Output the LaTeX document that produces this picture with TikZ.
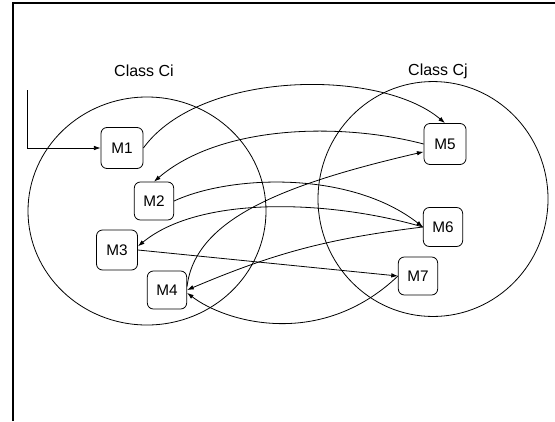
\documentclass[tikz,border=0pt]{standalone}
\usepackage{fontspec}
\setmainfont{Liberation Sans}
\usetikzlibrary{arrows.meta}

\begin{document}
\begin{tikzpicture}[
  x=0.75pt, y=-0.75pt,
  font=\fontsize{11.5}{13}\selectfont,
  meth/.style  = {draw, rounded corners=4.5pt, minimum width=29.5pt, minimum height=28.5pt, inner sep=1pt, line width=0.6pt},
  methL/.style = {meth, minimum width=31.5pt, minimum height=30.75pt},
  cls/.style   = {draw, line width=0.6pt},
  clslbl/.style = {font=\fontsize{12}{14}\selectfont},
  call/.style  = {-{Latex[length=5pt,width=3.4pt]}, line width=0.6pt},
  frame/.style = {line width=1.1pt},
]
\useasboundingbox (0,0) rectangle (555,421);
\draw[frame] (13,421) -- (13,3) -- (555,3);
% the two classes
\draw[cls] (147,211) ellipse [x radius=89.25pt, y radius=85.5pt];
\draw[cls] (433,199) ellipse [x radius=86.25pt, y radius=88.1pt];
\node[clslbl] (lblCi) at (144,71) {Class Ci};
\node[clslbl] (lblCj) at (438,71) {Class Cj};
% methods
\node[methL] (M1) at (122,148) {M1};
\node[meth]  (M2) at (154,201) {M2};
\node[methL, minimum width=30.75pt, minimum height=30pt] (M3) at (117,250) {M3};
\node[meth]  (M4) at (167,290) {M4};
\node[methL] (M5) at (445,144) {M5};
\node[meth, minimum height=29.25pt] (M6) at (443,227) {M6};
\node[meth]  (M7) at (418,276) {M7};
% calls
\coordinate (entry) at (27,90);
\draw[call] (entry) |- (M1.west);
\draw[call] (M1.east) .. controls (200,70) and (380,68) .. (M5.north);
\draw[call] (M5.west) .. controls (340,122) and (220,125) .. (M2.north);
\draw[call] (M2.east) .. controls (230,175) and (350,170) .. (M6.west);
\draw[call] (M6.west) .. controls (330,200) and (200,195) .. (M3.10);
\draw[call] (M3.east) -- (M7.west);
\draw[call] (M6.west) to[bend right=8] (M4.east);
\draw[call] (M4.10) .. controls (195,220) and (280,185) .. (M5.-160);
\draw[call] (M7.west) .. controls (320,350) and (225,322) .. (M4.-8);
\end{tikzpicture}
\end{document}
